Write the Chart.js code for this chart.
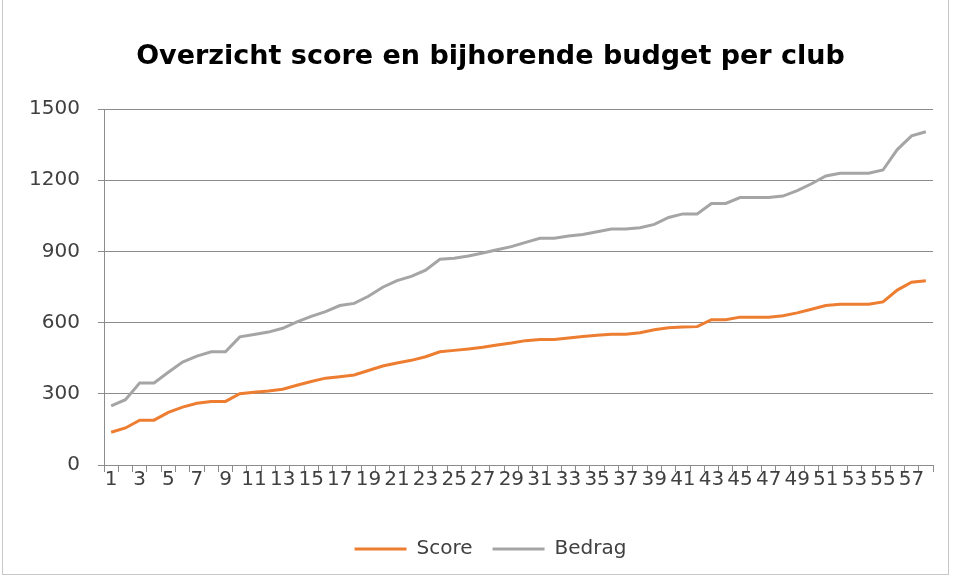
<!doctype html>
<html>
<head>
<meta charset="utf-8">
<title>Overzicht score en bijhorende budget per club</title>
<script src="https://cdn.jsdelivr.net/npm/chart.js@4.4.0/dist/chart.umd.min.js"></script>
<style>
html, body { margin:0; padding:0; background:#fff; }
#wrap { position:relative; width:955px; height:578px; }
#frame { position:absolute; left:2px; top:0; width:945px; height:574px; border:1px solid #c8c8c8; border-top:none; pointer-events:none; }
canvas { position:absolute; left:0; top:0; }
</style>
</head>
<body>
<div id="wrap">
<canvas id="myChart" width="955" height="578"></canvas>
<div id="frame"></div>
</div>

<script>
// clubs 1..58
var clubs = ['1','2','3','4','5','6','7','8','9','10','11','12','13','14','15','16','17','18','19','20',
  '21','22','23','24','25','26','27','28','29','30','31','32','33','34','35','36','37','38','39','40',
  '41','42','43','44','45','46','47','48','49','50','51','52','53','54','55','56','57','58'];

var score = [138,156,189,189,222,244,260,268,268,300,
  307,312,319,336,352,366,372,379,398,417,
  430,441,456,477,483,489,496,506,514,524,
  529,529,535,541,547,551,551,557,570,578,
  581,583,612,612,623,623,623,629,641,656,
  672,677,677,677,687,737,770,776];

var bedrag = [249,275,346,346,391,434,459,477,477,540,
  550,560,576,603,626,646,672,681,711,749,
  777,795,821,867,871,881,893,907,920,938,
  955,955,965,971,983,994,994,1000,1014,1043,
  1058,1058,1102,1102,1127,1127,1127,1133,1156,1185,
  1218,1229,1229,1229,1243,1329,1387,1404];

var yMin = 0, yMax = 1500, yStep = 300;

var gridCol = '#8c8c8c';
var txtCol = '#404040';
var fontFam = 'DejaVu Sans';

// title and legend sit a little right of the canvas centre in the original
var shiftBoxes = {
  id: 'shiftBoxes',
  afterLayout: function(chart) {
    [chart.legend, chart.titleBlock].forEach(function(b) {
      if (b) { b.left += 24; b.right += 24; }
    });
  }
};

var ctx = document.getElementById('myChart').getContext('2d');
var chart = new Chart(ctx, {
  type: 'line',
  data: {
    labels: clubs,
    datasets: [{
      label: 'Score',
      data: score,
      borderColor: '#ED7D31',
      backgroundColor: '#ED7D31',
      borderWidth: 3,
      pointRadius: 0,
      tension: 0,
      fill: false
    }, {
      label: 'Bedrag',
      data: bedrag,
      borderColor: '#A5A5A5',
      backgroundColor: '#A5A5A5',
      borderWidth: 3,
      pointRadius: 0,
      tension: 0,
      fill: false
    }]
  },
  options: {
    responsive: false,
    animation: false,
    layout: { padding: { left: 0, right: 22, top: 0, bottom: 9 } },
    plugins: {
      title: {
        display: true,
        text: 'Overzicht score en bijhorende budget per club',
        color: '#000',
        font: { family: fontFam, size: 27, weight: 'bold' },
        padding: { top: 41, bottom: 35.6 }
      },
      legend: {
        position: 'bottom',
        labels: {
          usePointStyle: true,
          pointStyle: 'line',
          pointStyleWidth: 52,
          padding: 20,
          color: txtCol,
          font: { family: fontFam, size: 20 }
        }
      },
      tooltip: { enabled: false }
    },
    scales: {
      x: {
        offset: true,
        grid: { display: true, offset: true, drawOnChartArea: false, drawTicks: true, tickLength: 7, color: gridCol },
        border: { display: true, color: gridCol },
        ticks: {
          autoSkip: false,
          maxRotation: 0,
          padding: -4,
          color: txtCol,
          font: { family: fontFam, size: 20 },
          callback: function(v, i) { return i % 2 === 0 ? clubs[i] : ''; }
        },
        afterFit: function(s) { s.height = 54; }
      },
      y: {
        min: yMin,
        max: yMax,
        ticks: {
          stepSize: yStep,
          padding: 18,
          color: txtCol,
          font: { family: fontFam, size: 20 },
          callback: function(v) { return String(v); }
        },
        grid: { color: gridCol, tickLength: 6 },
        border: { display: true, color: gridCol },
        afterFit: function(s) { s.width = 104; }
      }
    }
  },
  plugins: [shiftBoxes]
});
</script>
</body>
</html>
